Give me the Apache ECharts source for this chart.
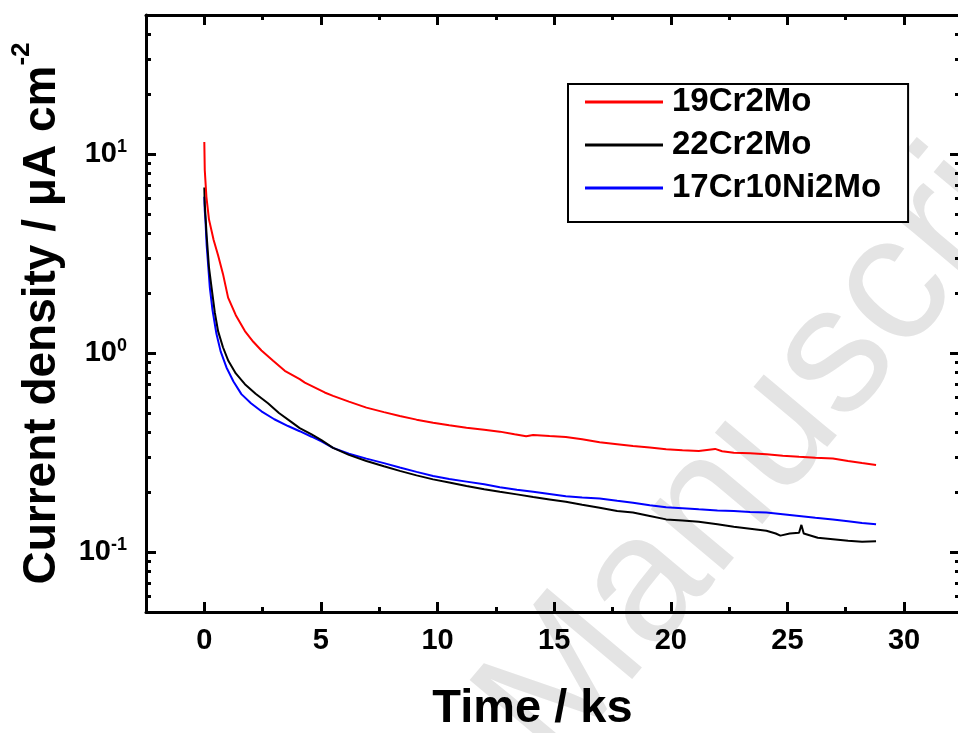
<!DOCTYPE html>
<html>
<head>
<meta charset="utf-8">
<script src="https://cdn.jsdelivr.net/npm/echarts@6/dist/echarts.min.js"></script>
<style>
  html, body { margin: 0; padding: 0; background: #fff; }
  #chart { width: 958px; height: 733px; }
</style>
</head>
<body>
<div id="chart"></div>
<script>
// values (time in ks, current density in µA cm-2)
const seriesNames = ['19Cr2Mo', '22Cr2Mo', '17Cr10Ni2Mo'];
const seriesColors = ['#ff0000', '#000000', '#0000ff'];

const red19Cr2Mo = [
  [0, 11.5], [0.02, 8.3], [0.09, 6.1], [0.2, 4.7], [0.4, 3.7], [0.59, 3.1],
  [0.8, 2.5], [1.02, 1.9], [1.35, 1.55], [1.74, 1.29], [2.1, 1.14], [2.45, 1.03],
  [2.95, 0.915], [3.45, 0.815], [4.09, 0.74], [4.31, 0.711], [5.16, 0.634], [5.52, 0.61],
  [6.2, 0.57], [6.95, 0.532], [7.7, 0.505], [8.38, 0.483], [9.1, 0.463], [9.81, 0.447],
  [10.5, 0.434], [11.24, 0.422], [12, 0.412], [12.67, 0.403], [13.3, 0.391], [13.8, 0.382],
  [14.1, 0.388], [14.8, 0.383], [15.5, 0.379], [16.2, 0.369], [16.95, 0.356], [17.7, 0.348],
  [18.38, 0.341], [19.1, 0.335], [19.8, 0.329], [20.5, 0.325], [21.2, 0.322], [21.9, 0.33],
  [22.2, 0.321], [22.7, 0.316], [23.4, 0.314], [24.1, 0.31], [24.8, 0.305], [25.5, 0.301],
  [26.2, 0.298], [26.95, 0.295], [27.6, 0.287], [28.2, 0.28], [28.8, 0.274]
];

const black22Cr2Mo = [
  [0, 6.8], [0.02, 5.6], [0.05, 4.9], [0.1, 3.9], [0.2, 2.7], [0.31, 2.14], [0.45, 1.6],
  [0.59, 1.29], [0.8, 1.07], [1.03, 0.915], [1.35, 0.79], [1.74, 0.698], [2.2, 0.625],
  [2.73, 0.56], [3.2, 0.5], [3.74, 0.45], [4.09, 0.42], [4.6, 0.39], [5.02, 0.365],
  [5.52, 0.334], [6.2, 0.308], [6.95, 0.287], [7.7, 0.27], [8.38, 0.256], [9.1, 0.243],
  [9.81, 0.232], [10.5, 0.224], [11.24, 0.215], [12, 0.207], [12.67, 0.201], [13.4, 0.195],
  [14.1, 0.189], [14.8, 0.184], [15.5, 0.179], [16.2, 0.173], [16.95, 0.167], [17.7, 0.161],
  [18.38, 0.158], [19.1, 0.152], [19.8, 0.146], [20.5, 0.144], [21.2, 0.142], [22, 0.138],
  [22.7, 0.134], [23.4, 0.131], [24.1, 0.128], [24.5, 0.124], [24.7, 0.121], [25.1, 0.124],
  [25.5, 0.125], [25.6, 0.137], [25.7, 0.124], [26.3, 0.118], [26.95, 0.116], [27.6, 0.114],
  [28.2, 0.1126], [28.8, 0.1135]
];

const blue17Cr10Ni2Mo = [
  [0, 6.1], [0.02, 5.2], [0.05, 4.63], [0.1, 3.5], [0.236, 2.14], [0.35, 1.65], [0.52, 1.25],
  [0.7, 1.02], [0.95, 0.847], [1.25, 0.72], [1.59, 0.622], [2, 0.56], [2.45, 0.51],
  [3, 0.465], [3.59, 0.43], [4.09, 0.405], [4.6, 0.38], [5.02, 0.36], [5.52, 0.334],
  [6.2, 0.312], [6.95, 0.295], [7.7, 0.28], [8.38, 0.266], [9.1, 0.253], [9.81, 0.241],
  [10.5, 0.233], [11.24, 0.226], [12, 0.219], [12.67, 0.212], [13.4, 0.206], [14.1, 0.201],
  [14.8, 0.196], [15.5, 0.191], [16.2, 0.188], [16.95, 0.186], [17.7, 0.181], [18.38, 0.177],
  [19.1, 0.172], [19.8, 0.168], [20.5, 0.166], [21.2, 0.164], [22, 0.162], [22.7, 0.161],
  [23.4, 0.159], [24.1, 0.158], [24.8, 0.155], [25.5, 0.152], [26.2, 0.149], [26.95, 0.146],
  [27.6, 0.143], [28.2, 0.14], [28.8, 0.138]
];

const xMajorTicks = [0, 5, 10, 15, 20, 25, 30];
const xMinorTicks = [2.5, 7.5, 12.5, 17.5, 22.5, 27.5];
const yMajorTicks = [0.1, 1, 10];
const yMinorTicks = [0.06, 0.07, 0.08, 0.09, 0.2, 0.3, 0.4, 0.5, 0.6, 0.7, 0.8, 0.9,
  2, 3, 4, 5, 6, 7, 8, 9, 20, 30, 40];

const FONT = '"Liberation Sans", Arial, sans-serif';
const chart = echarts.init(document.getElementById('chart'));

const lineStyle = { color: '#000', width: 3 };

// one axis per tick set; the main ones carry labels and titles
function xAxisDef(position, ticks, len, main) {
  const bottom = main && position === 'bottom';
  return {
    type: 'value', position: position, min: -2.5, max: 32.4,
    axisLine: { show: main, onZero: false, lineStyle: lineStyle },
    axisTick: { show: true, inside: true, length: len, customValues: ticks,
      lineStyle: { color: '#000', width: 3 } },
    axisLabel: { show: bottom, customValues: ticks, margin: 14,
      fontSize: 29, fontWeight: 'bold', fontFamily: FONT, color: '#000' },
    splitLine: { show: false },
    name: bottom ? 'Time / ks' : '',
    nameLocation: 'middle', nameGap: 74,
    nameTextStyle: { fontSize: 47, fontWeight: 'bold', fontFamily: FONT, color: '#000',
      padding: [0, 41, 0, 0] }
  };
}

function yAxisDef(position, ticks, len, main) {
  const left = main && position === 'left';
  return {
    type: 'log', logBase: 10, position: position, min: 0.05, max: 50,
    axisLine: { show: main, onZero: false, lineStyle: lineStyle },
    axisTick: { show: true, inside: true, length: len, customValues: ticks,
      lineStyle: { color: '#000', width: 3 } },
    axisLabel: {
      show: left, customValues: ticks, margin: 19,
      formatter: v => '{b|10}{s|' + Math.round(Math.log10(v)) + '}',
      rich: {
        b: { fontSize: 29, fontWeight: 'bold', fontFamily: FONT, color: '#000', lineHeight: 32 },
        s: { fontSize: 18, fontWeight: 'bold', fontFamily: FONT, color: '#000', lineHeight: 18, verticalAlign: 'top' }
      }
    },
    splitLine: { show: false },
    name: left ? '{t|Current density / μA cm}{s|-2}' : '',
    nameLocation: 'middle', nameGap: 71, nameRotate: 90,
    nameTextStyle: {
      rich: {
        t: { fontSize: 46, fontWeight: 'bold', fontFamily: FONT, color: '#000', lineHeight: 66 },
        s: { fontSize: 26, fontWeight: 'bold', fontFamily: FONT, color: '#000', lineHeight: 26, verticalAlign: 'top' }
      }
    }
  };
}

const dataSets = [red19Cr2Mo, black22Cr2Mo, blue17Cr10Ni2Mo];

const option = {
  backgroundColor: '#fff',
  animation: false,
  grid: { left: 146, top: 15, width: 814, height: 597, outerBoundsMode: 'none' },
  graphic: [{
    type: 'text', x: 586, y: 797, rotation: 50 * Math.PI / 180, z: -10, silent: true,
    style: { text: 'Manuscript', font: '180px "Liberation Sans", Arial, sans-serif',
      fill: '#e4e4e4', textVerticalAlign: 'bottom' }
  }],
  legend: {
    orient: 'vertical', left: 568, top: 84,
    icon: 'rect', itemWidth: 78, itemHeight: 3, itemGap: 7,
    padding: [0, 27, 16, 17],
    borderColor: '#000', borderWidth: 2, backgroundColor: '#fff',
    textStyle: { fontSize: 33, fontWeight: 'bold', fontFamily: FONT, color: '#000',
      lineHeight: 36, padding: [0, 0, 0, 4] },
    data: seriesNames
  },
  xAxis: [
    xAxisDef('bottom', xMajorTicks, 10, true),
    xAxisDef('bottom', xMinorTicks, 5, false),
    xAxisDef('top', xMajorTicks, 10, true),
    xAxisDef('top', xMinorTicks, 5, false)
  ],
  yAxis: [
    yAxisDef('left', yMajorTicks, 10, true),
    yAxisDef('left', yMinorTicks, 5, false),
    yAxisDef('right', yMajorTicks, 10, true),
    yAxisDef('right', yMinorTicks, 5, false)
  ],
  series: seriesNames.map((name, i) => ({
    name: name, type: 'line', data: dataSets[i],
    xAxisIndex: 0, yAxisIndex: 0,
    symbol: 'none', showSymbol: false,
    lineStyle: { color: seriesColors[i], width: 2 },
    itemStyle: { color: seriesColors[i] },
    z: 3 - i
  }))
};

chart.setOption(option);
</script>
</body>
</html>
